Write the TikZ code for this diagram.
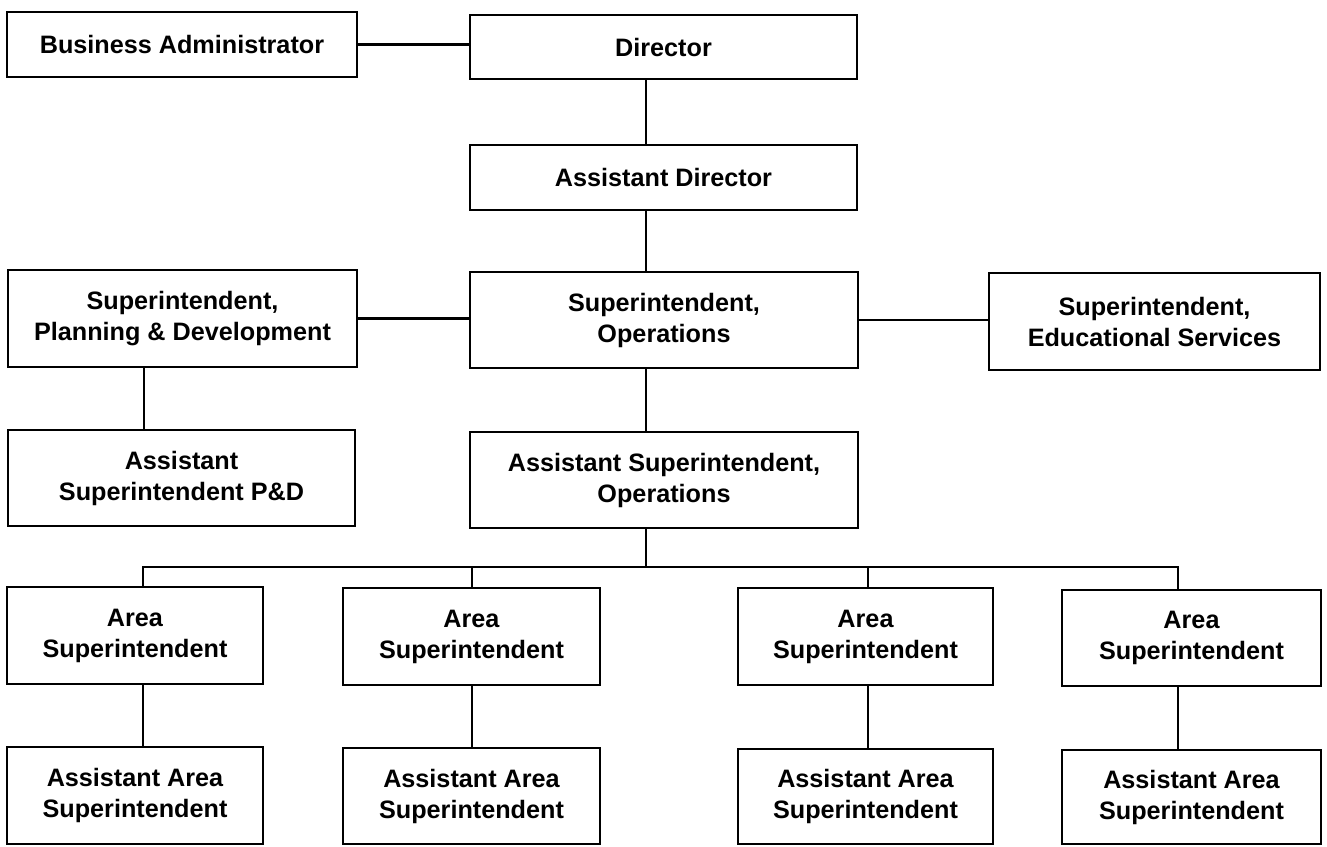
\documentclass[tikz,border=0pt]{standalone}
\usepackage{fontspec}
\setmainfont{Liberation Sans}
\begin{document}
\begin{tikzpicture}[x=0.5pt,y=-0.5pt,
  box/.style={draw=black, line width=1.2pt, inner sep=0pt, align=center,
    font=\bfseries\fontsize{12.6pt}{15.5pt}\selectfont},
  link/.style={draw=black, line width=1.2pt}]
\useasboundingbox (0,0) rectangle (1327,846);
\newcommand\bx[6]{\node[box, minimum width={(#4-#2)*0.5pt}, minimum height={(#5-#3)*0.5pt}] (#1) at ({(#2+#4)/2},{(#3+#5)/2}) {#6};}
% boxes
\bx{ba}{7}{12}{357}{77}{Business Administrator}
\bx{dir}{470}{15}{857}{79}{Director}
\bx{ad}{470}{145}{857}{210}{Assistant Director}
\bx{pd}{8}{270}{357}{367}{Superintendent,\\Planning \& Development}
\bx{so}{470}{272}{858}{368}{Superintendent,\\Operations}
\bx{es}{989}{273}{1320}{370}{Superintendent,\\Educational Services}
\bx{apd}{8}{430}{355}{526}{Assistant\\Superintendent P\&D}
\bx{aso}{470}{432}{858}{528}{Assistant Superintendent,\\Operations}
\bx{a1}{7}{587}{263}{684}{Area\\Superintendent}
\bx{a2}{343}{588}{600}{685}{Area\\Superintendent}
\bx{a3}{738}{588}{993}{685}{Area\\Superintendent}
\bx{a4}{1062}{590}{1321}{686}{Area\\Superintendent}
\bx{aa1}{7}{747}{263}{844}{Assistant Area\\Superintendent}
\bx{aa2}{343}{748}{600}{844}{Assistant Area\\Superintendent}
\bx{aa3}{738}{749}{993}{844}{Assistant Area\\Superintendent}
\bx{aa4}{1062}{750}{1321}{844}{Assistant Area\\Superintendent}
% helper coordinates
\coordinate (spine) at (646,0);
\coordinate (lspine) at (144,0);
\coordinate (bus) at (0,567);
\coordinate (d1) at (143,0);
\coordinate (d2) at (472,0);
\coordinate (d3) at (868,0);
\coordinate (d4) at (1178,0);
% connectors
\draw[link] (ba.east) -- (ba.east -| dir.west);
\draw[link] (dir.south -| spine) -- (ad.north -| spine);
\draw[link] (ad.south -| spine) -- (so.north -| spine);
\draw[link] (pd.east) -- (pd.east -| so.west);
\draw[link] (so.east) -- (so.east -| es.west);
\draw[link] (pd.south -| lspine) -- (apd.north -| lspine);
\draw[link] (so.south -| spine) -- (aso.north -| spine);
\draw[link] (aso.south -| spine) -- (bus -| spine);
\draw[link] (a1.north -| d1) -- (bus -| d1) -- (bus -| d4) -- (a4.north -| d4);
\draw[link] (bus -| d2) -- (a2.north -| d2);
\draw[link] (bus -| d3) -- (a3.north -| d3);
\draw[link] (a1.south -| d1) -- (aa1.north -| d1);
\draw[link] (a2.south -| d2) -- (aa2.north -| d2);
\draw[link] (a3.south -| d3) -- (aa3.north -| d3);
\draw[link] (a4.south -| d4) -- (aa4.north -| d4);
\end{tikzpicture}
\end{document}
